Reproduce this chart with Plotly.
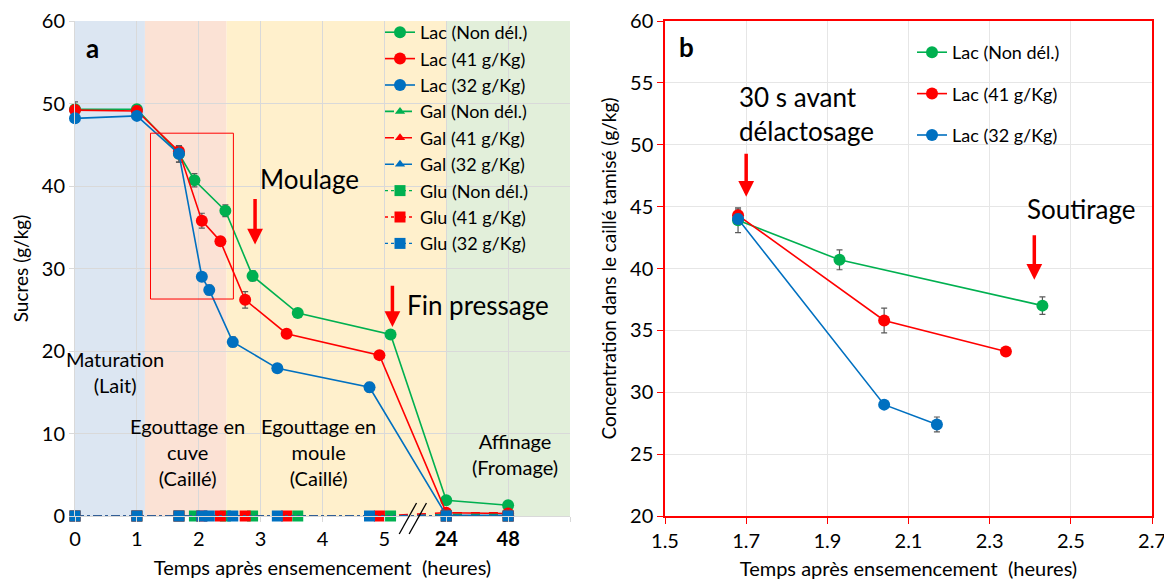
import plotly.graph_objects as go

# ---- data, panel a (hours; 24 and 48 sit after the axis break) ----
t_green = [0, 1, 1.68, 1.93, 2.43, 2.87, 3.6, 5.1, 24, 48]
t_red = [0, 1, 1.68, 2.05, 2.35, 2.75, 3.42, 4.92, 24, 48]
t_blue = [0, 1, 1.68, 2.05, 2.17, 2.55, 3.27, 4.76, 24, 48]

lac_non = [49.3, 49.3, 43.9, 40.7, 37.0, 29.1, 24.6, 22.0, 1.9, 1.3]
lac_non_err = [0.5, 0.5, 1.0, 0.8, 0.7, 0.6, 0.5, 0.4, 0.2, 0.5]
lac_41 = [49.2, 49.1, 44.2, 35.8, 33.3, 26.2, 22.1, 19.5, 0.4, 0.3]
lac_41_err = [1.0, 0.6, 0.6, 0.9, 0.3, 1.0, 0.3, 0.4, 0.1, 0.1]
lac_32 = [48.2, 48.5, 43.9, 29.0, 27.4, 21.1, 17.9, 15.6, 0.1, 0.1]
lac_32_err = [0.3, 0.4, 1.0, 0.3, 0.6, 0.6, 0.3, 0.6, 0.1, 0.1]

gal_non = [0, 0, 0, 0, 0, 0, 0, 0, 0.2, 0.2]
gal_41 = [0, 0, 0, 0, 0, 0, 0, 0, 0.4, 0.4]
gal_32 = [0, 0, 0, 0, 0, 0, 0, 0, 0.1, 0.1]
glu_non = [0, 0, 0, 0, 0, 0, 0, 0, 0, 0]
glu_41 = [0, 0, 0, 0, 0, 0, 0, 0, 0, 0]
glu_32 = [0, 0, 0, 0, 0, 0, 0, 0, 0, 0]

a_tickvals = [0, 1, 2, 3, 4, 5, 24, 48]
a_ticktext = ["0", "1", "2", "3", "4", "5", "<b>24</b>", "<b>48</b>"]

# ---- data, panel b ----
tb_green = [1.68, 1.93, 2.43]
tb_red = [1.68, 2.04, 2.34]
tb_blue = [1.68, 2.04, 2.17]
b_non = [43.9, 40.7, 37.0]
b_non_err = [1.0, 0.8, 0.7]
b_41 = [44.3, 35.8, 33.3]
b_41_err = [0.5, 1.0, 0.3]
b_32 = [44.0, 29.0, 27.4]
b_32_err = [0.4, 0.3, 0.6]

GREEN, RED, BLUE = "#00B050", "#FF0000", "#0070C0"
FONT = "Lato"
ERRC = "#595959"
BREAK = {24: 6, 48: 7}
W, H = 1172, 584


def pos(t):
    # broken time axis: 0-5 h linear, then 24 h and 48 h one step apart
    return [BREAK.get(v, v) for v in t]


fig = go.Figure()


def err(vals):
    return dict(type="data", array=vals, color=ERRC, thickness=1.2, width=3)


# Lac series
for t, y, e, c, name in [
    (t_green, lac_non, lac_non_err, GREEN, "Lac (Non dél.)"),
    (t_red, lac_41, lac_41_err, RED, "Lac (41 g/Kg)"),
    (t_blue, lac_32, lac_32_err, BLUE, "Lac (32 g/Kg)"),
]:
    fig.add_trace(go.Scatter(x=pos(t), y=y, error_y=err(e), mode="lines+markers", name=name,
                             line=dict(color=c, width=1.6), marker=dict(color=c, size=12),
                             xaxis="x", yaxis="y", legend="legend", cliponaxis=False))

# Gal series
for t, y, c, name in [
    (t_green, gal_non, GREEN, "Gal (Non dél.)"),
    (t_red, gal_41, RED, "Gal (41 g/Kg)"),
    (t_blue, gal_32, BLUE, "Gal (32 g/Kg)"),
]:
    fig.add_trace(go.Scatter(x=pos(t), y=y, mode="lines+markers", name=name,
                             line=dict(color=c, width=1.6, dash="dash"),
                             marker=dict(color=c, size=9, symbol="triangle-up"),
                             xaxis="x", yaxis="y", legend="legend", cliponaxis=False))

# Glu series
for t, y, c, name in [
    (t_green, glu_non, GREEN, "Glu (Non dél.)"),
    (t_red, glu_41, RED, "Glu (41 g/Kg)"),
    (t_blue, glu_32, BLUE, "Glu (32 g/Kg)"),
]:
    fig.add_trace(go.Scatter(x=pos(t), y=y, mode="lines+markers", name=name,
                             line=dict(color=c, width=1.4, dash="dot"),
                             marker=dict(color=c, size=11, symbol="square"),
                             xaxis="x", yaxis="y", legend="legend", cliponaxis=False))

# panel b
for t, y, e, c, name in [
    (tb_green, b_non, b_non_err, GREEN, "Lac (Non dél.)"),
    (tb_red, b_41, b_41_err, RED, "Lac (41 g/Kg)"),
    (tb_blue, b_32, b_32_err, BLUE, "Lac (32 g/Kg)"),
]:
    fig.add_trace(go.Scatter(x=t, y=y, error_y=err(e), mode="lines+markers", name=name,
                             line=dict(color=c, width=1.6), marker=dict(color=c, size=12),
                             xaxis="x2", yaxis="y2", legend="legend2", legendgroup=name))

# coloured phases behind panel a
bands = [(0, 1.13, "#dce6f2"), (1.13, 2.45, "#fbe2d5"), (2.45, 6, "#fff0cc"), (6, 8, "#e2efda")]
shapes = [dict(type="rect", xref="x", yref="y domain", x0=a, x1=b, y0=0, y1=1,
               fillcolor=c, line_width=0, layer="below") for a, b, c in bands]
shapes.append(dict(type="rect", xref="x", yref="y", x0=1.22, x1=2.56, y0=26.3, y1=46.4,
                   line=dict(color=RED, width=1), layer="above"))
# axis break marks
for dx in (0, 0.16):
    shapes.append(dict(type="line", xref="x", yref="paper", x0=5.24 + dx, x1=5.52 + dx,
                       y0=(H - 526) / H, y1=(H - 495) / H, line=dict(color="black", width=1.3)))
fig.update_layout(shapes=shapes)

txt = dict(family=FONT, size=20, color="black")
big = dict(family=FONT, size=26, color="black")
ann = [
    dict(x=0.28, y=56.7, xref="x", yref="y", text="<b>a</b>", showarrow=False, font=big),
    dict(x=0.65, y=17.5, xref="x", yref="y", text="Maturation<br>(Lait)", showarrow=False, font=txt),
    dict(x=1.82, y=7.7, xref="x", yref="y", text="Egouttage en<br>cuve<br>(Caillé)", showarrow=False, font=txt),
    dict(x=3.94, y=7.7, xref="x", yref="y", text="Egouttage en<br>moule<br>(Caillé)", showarrow=False, font=txt),
    dict(x=7.11, y=7.55, xref="x", yref="y", text="Affinage<br>(Fromage)", showarrow=False, font=txt),
    dict(x=2.95, y=40.8, xref="x", yref="y", text="Moulage", showarrow=False, font=big, xanchor="left"),
    dict(x=5.33, y=25.6, xref="x", yref="y", text="Fin pressage", showarrow=False, font=big, xanchor="left"),
    dict(x=1.553, y=57.9, xref="x2", yref="y2", text="<b>b</b>", showarrow=False, font=big),
    dict(x=1.677, y=52.5, xref="x2", yref="y2", text="30 s avant<br>délactosage", showarrow=False,
         font=big, xanchor="left", align="left"),
    dict(x=2.388, y=44.8, xref="x2", yref="y2", text="Soutirage", showarrow=False, font=big, xanchor="left"),
]
# red arrows
for x, y0, y1, xr, yr in [(2.91, 38.6, 32.9, "x", "y"), (5.13, 28.1, 22.9, "x", "y"),
                          (1.70, 49.4, 45.8, "x2", "y2"), (2.41, 42.8, 39.1, "x2", "y2")]:
    ann.append(dict(x=x, y=y1, ax=x, ay=y0, xref=xr, yref=yr, axref=xr, ayref=yr, text="",
                    showarrow=True, arrowhead=2, arrowsize=0.9, arrowwidth=3.5, arrowcolor=RED))
fig.update_layout(annotations=ann)

grid = "#d9d9d9"
ttl = "Temps après ensemencement\u00a0\u00a0(heures)"
# the page adds an 8px body margin, so pixel targets are shifted by 8
ydom = [(H - 508) / H, (H - 13) / H]
fig.update_layout(
    width=W, height=H,
    margin=dict(l=0, r=0, t=0, b=0),
    paper_bgcolor="white", plot_bgcolor="white",
    font=dict(family=FONT, size=20, color="black"),
    xaxis=dict(domain=[67 / W, 562 / W], range=[0, 8], automargin=False,
               tickvals=pos(a_tickvals) + [8], ticktext=a_ticktext + [""],
               showgrid=True, gridcolor=grid, showline=True, linecolor=grid, ticks="outside",
               tickcolor=grid, ticklen=5, zeroline=False, tickfont=dict(size=20),
               ticklabeloverflow="allow",
               title=dict(text=ttl, font=dict(size=20), standoff=11)),
    yaxis=dict(domain=ydom, range=[0, 60], dtick=10, automargin=False,
               showgrid=True, gridcolor=grid, showline=True, linecolor=grid, ticks="outside",
               tickcolor=grid, ticklen=5, zeroline=False, tickfont=dict(size=20),
               ticklabeloverflow="allow",
               title=dict(text="Sucres (g/kg)", font=dict(size=19), standoff=8)),
    xaxis2=dict(domain=[657 / W, 1144 / W], range=[1.5, 2.7], dtick=0.2, tick0=1.5,
                anchor="y2", automargin=False,
                showgrid=True, gridcolor="#e6e6e6", showline=True, linecolor=RED, linewidth=1.5,
                mirror=True, ticks="outside", tickcolor=RED, ticklen=6, zeroline=False,
                tickformat=".1f", tickfont=dict(size=20), ticklabeloverflow="allow",
                title=dict(text=ttl, font=dict(size=20), standoff=11)),
    yaxis2=dict(domain=ydom, range=[20, 60], dtick=5, anchor="x2", automargin=False,
                showgrid=True, gridcolor="#e6e6e6", showline=True, linecolor=RED, linewidth=1.5,
                mirror=True, ticks="outside", tickcolor=RED, ticklen=6, zeroline=False,
                tickfont=dict(size=20), ticklabeloverflow="allow",
                title=dict(text="Concentration dans le caillé tamisé (g/kg)", font=dict(size=19), standoff=8)),
    legend=dict(x=372 / W, y=(H - 6) / H, xanchor="left", yanchor="top", bgcolor="rgba(0,0,0,0)",
                font=dict(size=18), tracegroupgap=0, itemwidth=30),
    legend2=dict(x=904 / W, y=(H - 26) / H, xanchor="left", yanchor="top", bgcolor="rgba(0,0,0,0)",
                 font=dict(size=18), tracegroupgap=15, itemwidth=30),
)

fig.write_html("out.html")
